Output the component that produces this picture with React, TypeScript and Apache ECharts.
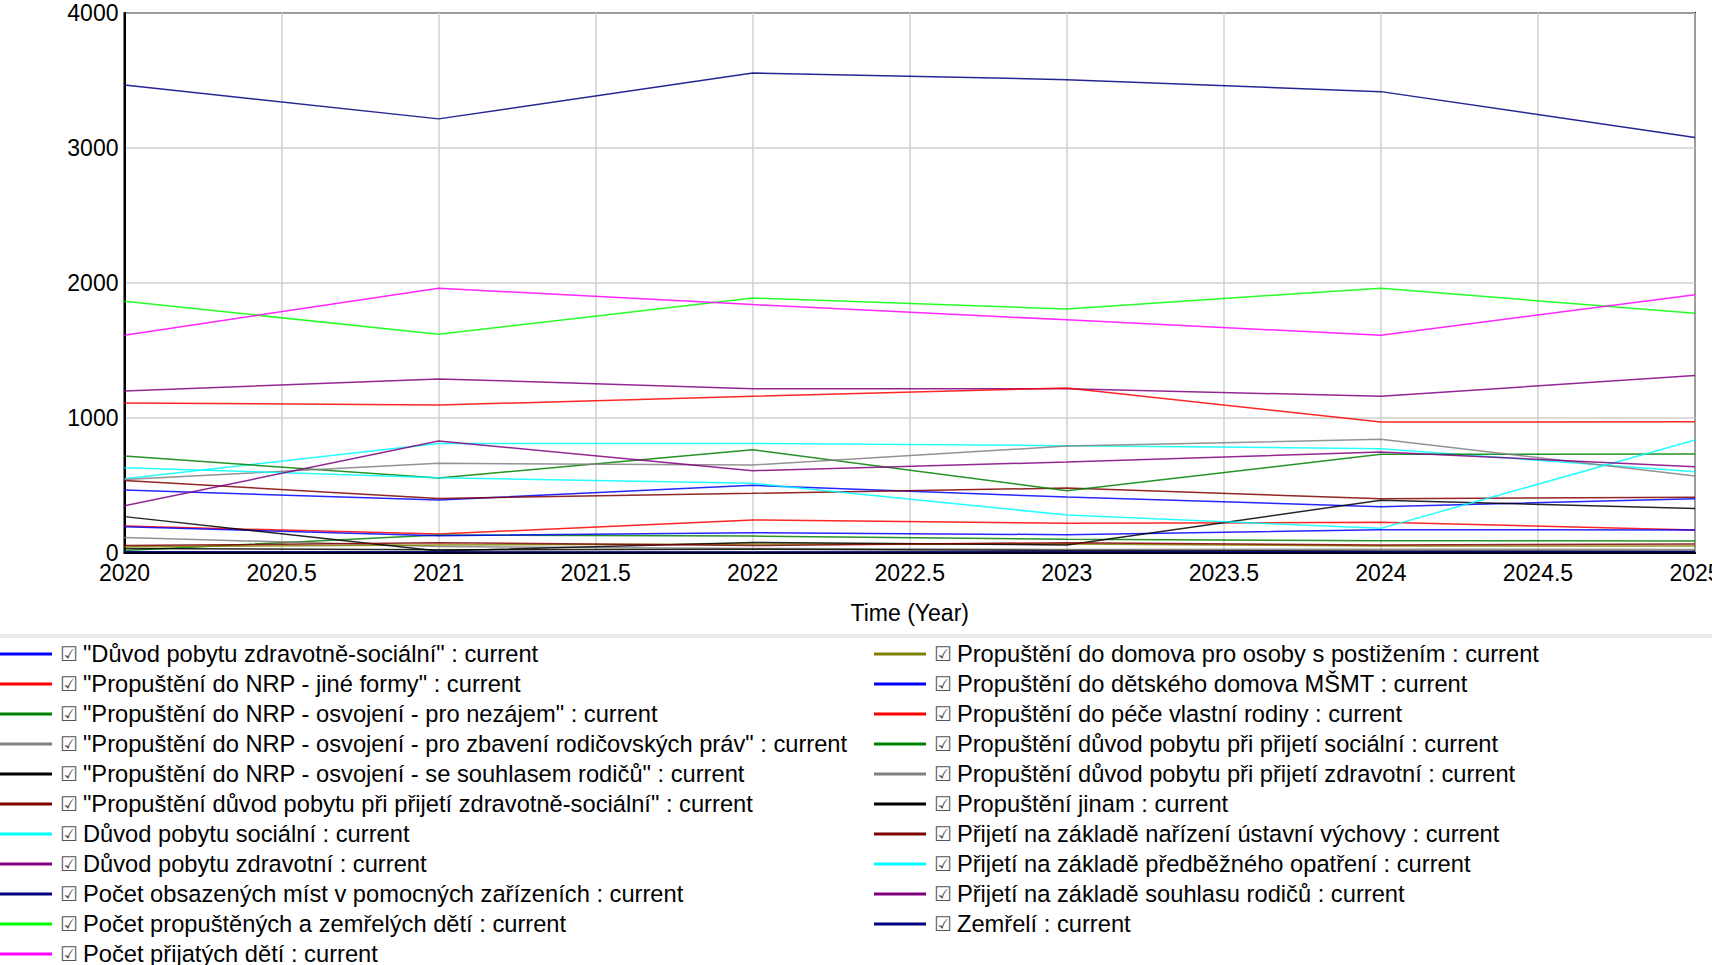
import React, { useEffect, useRef } from "react";
import * as echarts from "echarts";

const years = [2020, 2021, 2022, 2023, 2024, 2025];

const seriesNames = [
  "\"Důvod pobytu zdravotně-sociální\"",
  "\"Propuštění do NRP - jiné formy\"",
  "\"Propuštění do NRP - osvojení - pro nezájem\"",
  "\"Propuštění do NRP - osvojení - pro zbavení rodičovských práv\"",
  "\"Propuštění do NRP - osvojení - se souhlasem rodičů\"",
  "\"Propuštění důvod pobytu při přijetí zdravotně-sociální\"",
  "Důvod pobytu sociální",
  "Důvod pobytu zdravotní",
  "Počet obsazených míst v pomocných zařízeních",
  "Počet propuštěných a zemřelých dětí",
  "Počet přijatých dětí",
  "Propuštění do domova pro osoby s postižením",
  "Propuštění do dětského domova MŠMT",
  "Propuštění do péče vlastní rodiny",
  "Propuštění důvod pobytu při přijetí sociální",
  "Propuštění důvod pobytu při přijetí zdravotní",
  "Propuštění jinam",
  "Přijetí na základě nařízení ústavní výchovy",
  "Přijetí na základě předběžného opatření",
  "Přijetí na základě souhlasu rodičů",
  "Zemřelí",
];

const seriesColors = [
  "#0000ff", "#ff0000", "#008000", "#808080", "#000000", "#800000",
  "#00ffff", "#800080", "#000080", "#00ff00", "#ff00ff",
  "#808000", "#0000ff", "#ff0000", "#008000", "#808080", "#000000",
  "#800000", "#00ffff", "#800080", "#000080",
];

const duvodZdravotneSocialni = [463, 389, 498, 411, 340, 399];
const nrpJineFormy = [196, 137, 241, 216, 224, 167];
const nrpNezajem = [15, 130, 122, 98, 88, 85];
const nrpZbaveniPrav = [112, 45, 30, 22, 25, 23];
const nrpSouhlasRodicu = [30, 20, 25, 15, 12, 10];
const propDuvodZdravotneSocialni = [533, 401, 439, 478, 399, 409];
const duvodSocialni = [547, 809, 809, 792, 770, 599];
const duvodZdravotni = [1198, 1287, 1215, 1215, 1158, 1312];
const pocetObsazenychMist = [3466, 3215, 3555, 3506, 3417, 3077];
const pocetPropustenych = [1862, 1619, 1887, 1806, 1960, 1773];
const pocetPrijatych = [1611, 1960, 1838, 1725, 1611, 1911];
const domovPostizeni = [43, 56, 63, 63, 48, 48];
const detskyDomovMSMT = [191, 125, 147, 132, 169, 167];
const vlastniRodina = [1109, 1093, 1158, 1220, 967, 970];
const propDuvodSocialni = [715, 552, 762, 458, 728, 730];
const propDuvodZdravotni = [542, 661, 649, 789, 839, 567];
const propusteniJinam = [266, 12, 75, 56, 388, 327];
const prijetiUstavniVychova = [51, 73, 51, 73, 56, 63];
const prijetiPredbezneOpatreni = [629, 555, 513, 278, 179, 834];
const prijetiSouhlasRodicu = [347, 826, 607, 671, 745, 636];
const zemreli = [5, 5, 3, 5, 5, 5];

const seriesValues = [
  duvodZdravotneSocialni, nrpJineFormy, nrpNezajem, nrpZbaveniPrav, nrpSouhlasRodicu,
  propDuvodZdravotneSocialni, duvodSocialni, duvodZdravotni, pocetObsazenychMist,
  pocetPropustenych, pocetPrijatych, domovPostizeni, detskyDomovMSMT, vlastniRodina,
  propDuvodSocialni, propDuvodZdravotni, propusteniJinam, prijetiUstavniVychova,
  prijetiPredbezneOpatreni, prijetiSouhlasRodicu, zemreli,
];

const leftColumnCount = 11;

export default function App() {
  const ref = useRef<HTMLDivElement>(null);
  useEffect(() => {
    document.body.style.margin = "0";
    const chart = echarts.init(ref.current!, undefined, { renderer: "svg" });
    const font = "'Liberation Sans', Arial, sans-serif";
    const legendBase: any = {
      orient: "vertical",
      top: 642,
      height: 330,
      padding: 0,
      itemGap: 6,
      itemWidth: 52,
      itemHeight: 3,
      icon: "rect",
      selectedMode: false,
      formatter: (n: string) => `{cb|☑}${n} : current`,
      textStyle: {
        fontFamily: font,
        fontSize: 23.7,
        color: "#000",
        lineHeight: 24,
        rich: {
          cb: {
            fontFamily: "'DejaVu Sans'",
            fontSize: 20,
            color: "#555",
            padding: [0, 5, 0, 3],
            lineHeight: 24,
          },
        },
      },
    };
    chart.setOption({
      animation: false,
      grid: {
        left: 124.5,
        right: 17,
        top: 13,
        bottom: 412.5,
        show: true,
        borderColor: "#000",
        borderWidth: 2,
        containLabel: false,
        outerBoundsMode: "none",
      },
      xAxis: {
        type: "value",
        min: 2020,
        max: 2025,
        interval: 0.5,
        name: "Time (Year)",
        nameLocation: "middle",
        nameGap: 49,
        nameTextStyle: { fontFamily: font, fontSize: 23, color: "#000" },
        axisLine: { show: true, lineStyle: { color: "#000", width: 2 } },
        axisTick: { show: false },
        axisLabel: {
          fontFamily: font,
          fontSize: 23,
          color: "#000",
          margin: 9,
          formatter: (v: number) => String(v),
        },
        splitLine: { show: true, lineStyle: { color: "#d0d0d0", width: 1.5 } },
      },
      yAxis: {
        type: "value",
        min: 0,
        max: 4000,
        interval: 1000,
        axisLine: { show: true, lineStyle: { color: "#000", width: 2 } },
        axisTick: { show: false },
        axisLabel: {
          fontFamily: font,
          fontSize: 23,
          color: "#000",
          margin: 6,
          padding: [8, 0, 0, 0],
          formatter: (v: number) => String(v),
        },
        splitLine: { show: true, lineStyle: { color: "#d0d0d0", width: 1.5 } },
      },
      legend: [
        { ...legendBase, left: 0, data: seriesNames.slice(0, leftColumnCount) },
        { ...legendBase, left: 874, data: seriesNames.slice(leftColumnCount) },
      ],
      graphic: [
        {
          type: "rect",
          shape: { x: 0, y: 634, width: 1712, height: 4 },
          style: { fill: "#ececec" },
          silent: true,
        },
      ],
      series: seriesNames.map((name, i) => ({
        type: "line",
        name,
        data: years.map((y, j) => [y, seriesValues[i][j]]),
        symbol: "none",
        lineStyle: { width: 1.5, color: seriesColors[i], opacity: 0.85 },
        itemStyle: { color: seriesColors[i] },
        emphasis: { disabled: true },
      })),
    });
    return () => chart.dispose();
  }, []);
  return <div ref={ref} style={{ width: 1712, height: 965 }} />;
}
